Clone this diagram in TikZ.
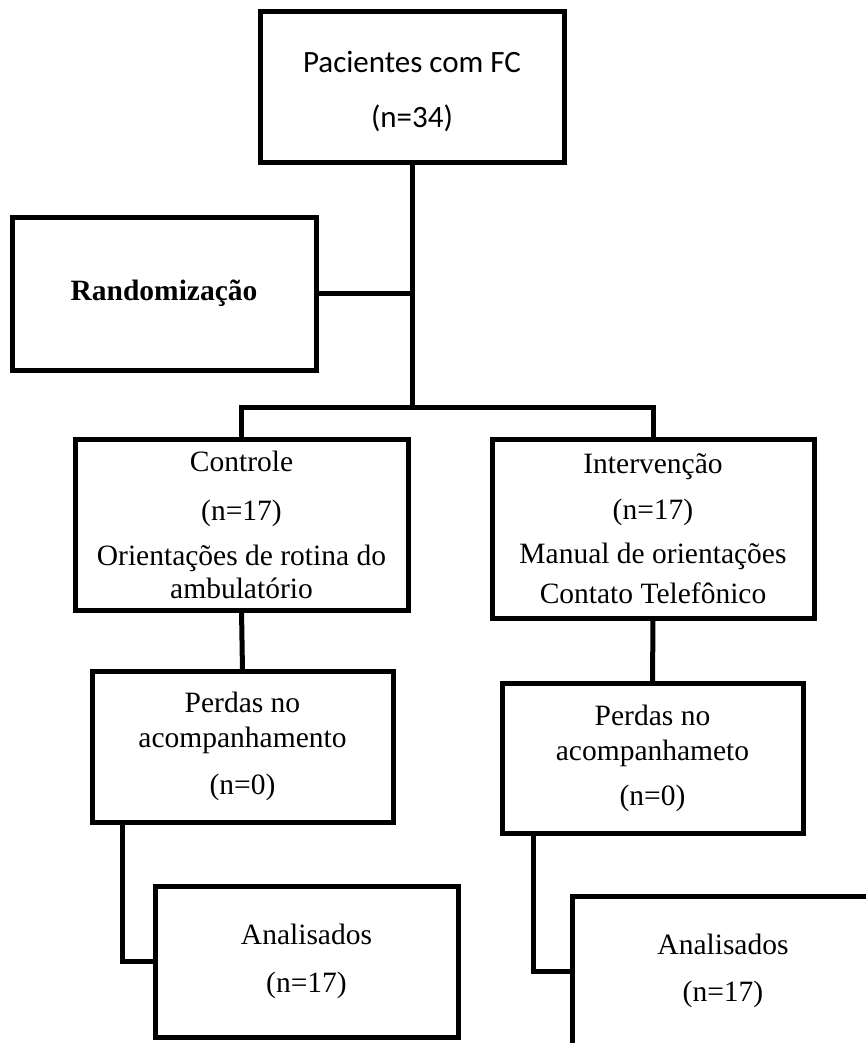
\documentclass[tikz,border=0pt]{standalone}
\usepackage{fontspec}
\setmainfont{Liberation Serif}
\newfontfamily\calibri{Carlito}
\begin{document}
\begin{tikzpicture}[x=1pt,y=-1pt,
  box/.style={draw, line width=5pt, inner sep=0pt, outer sep=0pt, align=center},
  serif/.style={font=\fontsize{29.5}{33}\selectfont},
  link/.style={line width=5pt}]
\useasboundingbox (0,0) rectangle (866,1043);
\clip (0,0) rectangle (866,1043);
\node[box, minimum width=304pt, minimum height=151pt, font=\calibri\fontsize{31}{55}\selectfont] (top) at (412,87.5) {\rule{0pt}{30pt}Pacientes com FC\\(n=34)};
\node[box, minimum width=304pt, minimum height=153pt, font=\bfseries\fontsize{29.5}{33}\selectfont] (rand) at (164,293.5) {Randomização};
\node[box, serif, minimum width=333pt, minimum height=171pt] (ctrl) at (241.5,524.5) {Controle\\[16pt](n=17)\\[12pt]Orientações de rotina do\\ambulatório};
\node[box, serif, minimum width=322pt, minimum height=179pt] (int) at (653,528.5) {Intervenção\\[13pt](n=17)\\[11pt]Manual de orientações\\[7pt]Contato Telefônico};
\node[box, serif, minimum width=301pt, minimum height=151pt] (pl) at (242.5,746.5) {Perdas no\\[2pt]acompanhamento\\[14pt](n=0)};
\node[box, serif, minimum width=301pt, minimum height=150pt] (pr) at (652.5,758) {Perdas no\\[2pt]acompanhameto\\[12pt](n=0)};
\node[box, serif, minimum width=303pt, minimum height=151pt] (al) at (306.5,961.5) {Analisados\\[15pt](n=17)};
\node[box, serif, minimum width=302pt, minimum height=150pt] (ar) at (723,971) {Analisados\\[14pt](n=17)};
\coordinate (bl) at (242,407);
\draw[link] (top.south) -- (top.south |- bl);
\draw[link] (rand.east) -- (rand.east -| top.south);
\draw[link] (ctrl.north) -- (ctrl.north |- bl) -- (int.north |- bl) -- (int.north);
\draw[link] (ctrl.south) -- (pl.north);
\draw[link] (int.south) -- (pr.north);
\draw[link] ([xshift=30pt]pl.south west) |- (al.west);
\draw[link] ([xshift=31pt]pr.south west) |- (ar.west);
\end{tikzpicture}
\end{document}
